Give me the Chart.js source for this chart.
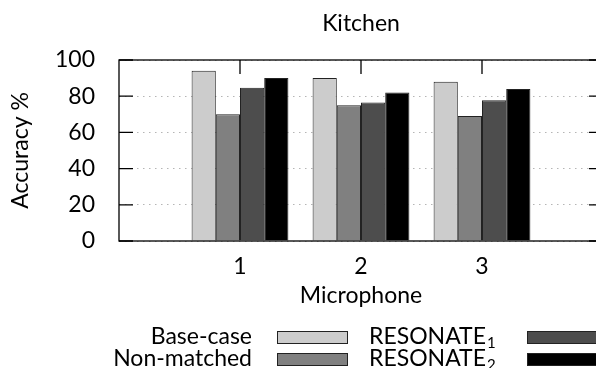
<!DOCTYPE html>
<html>
<head>
<meta charset="utf-8">
<script src="https://cdn.jsdelivr.net/npm/chart.js@4.4.0/dist/chart.umd.min.js"></script>
<style>
  html, body { margin: 0; padding: 0; overflow: hidden; background: #fff; }
  canvas { display: block; }
</style>
</head>
<body>
<canvas id="graph" width="620" height="368"></canvas>
<script>
// microphones on the x axis
const mics = ["1", "2", "3"];

// accuracy % per microphone
const base_case = [94, 90, 88];
const non_matched = [70, 75, 69];
const resonate1 = [84.7, 76.5, 77.7];
const resonate2 = [90, 82, 84];

const y_ticks = [0, 20, 40, 60, 80, 100];

const FONT = "Lato";
const FS = 23;

// blank slot on each side, like enlarged x limits
const labels = ["", ...mics, ""];
const pad = (arr) => [null, ...arr, null];

const datasets = [
  { label: "Base-case", data: pad(base_case), backgroundColor: "#cccccc" },
  { label: "Non-matched", data: pad(non_matched), backgroundColor: "#808080" },
  { label: "RESONATE₁", data: pad(resonate1), backgroundColor: "#4d4d4d" },
  { label: "RESONATE₂", data: pad(resonate2), backgroundColor: "#000000" },
].map((d) => ({
  ...d,
  borderColor: "#222",
  borderWidth: 1,
  categoryPercentage: 0.8,
  barPercentage: 1.0,
}));

// frame + inward ticks on all sides
const framePlugin = {
  id: "frame",
  afterDatasetsDraw(chart) {
    const { ctx, chartArea: a, scales } = chart;
    ctx.save();
    ctx.strokeStyle = "#000";
    ctx.lineWidth = 1.3;
    ctx.beginPath();
    y_ticks.forEach((v) => {
      const y = scales.y.getPixelForValue(v);
      ctx.moveTo(a.left, y);
      ctx.lineTo(a.left + 14, y);
      ctx.moveTo(a.right, y);
      ctx.lineTo(a.right - 14, y);
    });
    mics.forEach((m, i) => {
      const x = scales.x.getPixelForValue(i + 1);
      ctx.moveTo(x, a.top);
      ctx.lineTo(x, a.top + 14);
    });
    ctx.stroke();
    ctx.strokeRect(a.left, a.top, a.right - a.left, a.bottom - a.top);
    ctx.restore();
  },
};

// two column legend, text left of the box
const legendPlugin = {
  id: "sideLegend",
  afterDraw(chart) {
    const { ctx } = chart;
    const ds = chart.data.datasets;
    const cells = [
      { d: ds[0], tx: 252, bx: 277, y: 337, align: "right" },
      { d: ds[2], tx: 369, bx: 527, y: 337, align: "left" },
      { d: ds[1], tx: 252, bx: 277, y: 359, align: "right" },
      { d: ds[3], tx: 369, bx: 527, y: 359, align: "left" },
    ];
    ctx.save();
    ctx.textBaseline = "middle";
    cells.forEach((c) => {
      let text = c.d.label;
      let sub = "";
      const m = text.match(/([₀-₉])$/);
      if (m) {
        sub = String.fromCharCode(m[1].charCodeAt(0) - 0x2080 + 48);
        text = text.slice(0, -1);
      }
      ctx.font = FS + "px " + FONT;
      ctx.textAlign = "left";
      const w = ctx.measureText(text).width;
      ctx.font = "15px " + FONT;
      const sw = sub ? ctx.measureText(sub).width + 1 : 0;
      const x0 = c.align === "right" ? c.tx - w - sw : c.tx;
      ctx.fillStyle = "#000";
      ctx.font = FS + "px " + FONT;
      ctx.fillText(text, x0, c.y);
      if (sub) {
        ctx.font = "15px " + FONT;
        ctx.fillText(sub, x0 + w + 1, c.y + 6);
      }
      ctx.fillStyle = c.d.backgroundColor;
      ctx.fillRect(c.bx, c.y - 6, 70, 12);
      ctx.strokeStyle = "#222";
      ctx.lineWidth = 1;
      ctx.strokeRect(c.bx + 0.5, c.y - 5.5, 70, 12);
    });
    ctx.restore();
  },
};

const config = {
  type: "bar",
  data: { labels: labels, datasets: datasets },
  options: {
    responsive: false,
    animation: false,
    layout: { padding: { left: 0, right: 17, top: 0, bottom: 57 } },
    plugins: {
      legend: { display: false },
      tooltip: { enabled: false },
      title: {
        display: true,
        fullSize: false,
        text: "Kitchen",
        color: "#000",
        font: { family: FONT, size: FS, weight: "normal" },
        padding: { top: 10, bottom: 22.4 },
      },
    },
    scales: {
      x: {
        offset: false,
        grid: { display: false, drawTicks: false },
        border: { display: false },
        ticks: {
          color: "#000",
          padding: 12,
          autoSkip: false,
          maxRotation: 0,
          font: { family: FONT, size: FS },
        },
        title: {
          display: true,
          text: "Microphone",
          color: "#000",
          font: { family: FONT, size: FS },
          padding: { top: 0, bottom: 2 },
        },
        afterFit(scale) {
          scale.height = 70;
        },
      },
      y: {
        min: 0,
        max: 100,
        grid: { color: "#b5b5b5", lineWidth: 1, drawTicks: false },
        border: { display: false, dash: [1.5, 4.5] },
        ticks: {
          stepSize: 20,
          color: "#000",
          padding: 24,
          font: { family: FONT, size: FS },
        },
        title: {
          display: true,
          text: "Accuracy %",
          color: "#000",
          font: { family: FONT, size: FS },
          padding: { top: 7, bottom: 0 },
        },
        afterFit(scale) {
          scale.width = 119;
        },
      },
    },
  },
  plugins: [framePlugin, legendPlugin],
};

window.onload = () => {
  new Chart(document.getElementById("graph"), config);
};
</script>
</body>
</html>
